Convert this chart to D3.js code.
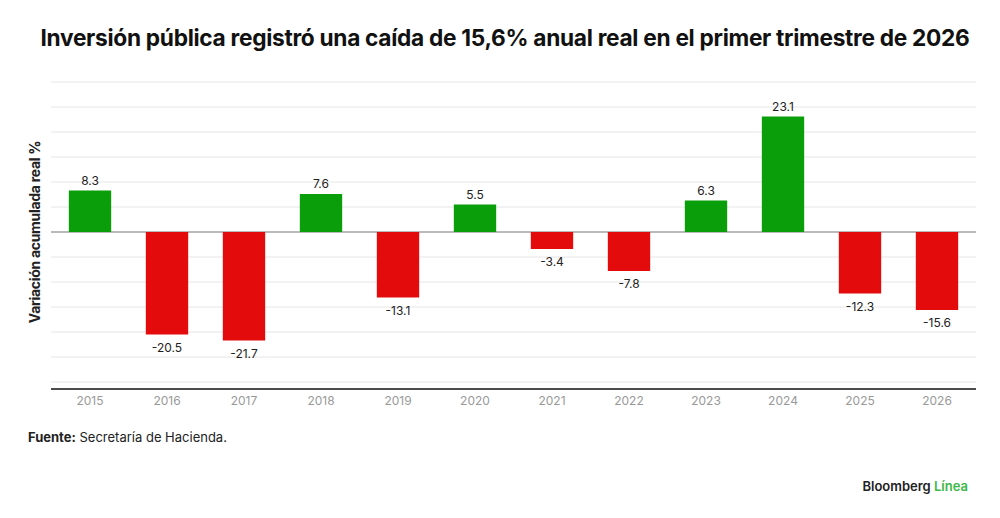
<!DOCTYPE html>
<html><head><meta charset="utf-8">
<script src="https://cdn.jsdelivr.net/npm/d3@7"></script>
<style>body{margin:0;background:#fff;font-family:Inter,"Noto Sans",sans-serif;}</style>
</head><body><svg id="c" width="1000" height="518"></svg>
<script>
const years = ["2015","2016","2017","2018","2019","2020","2021","2022","2023","2024","2025","2026"];
const values = [8.3,-20.5,-21.7,7.6,-13.1,5.5,-3.4,-7.8,6.3,23.1,-12.3,-15.6];
const gridTicks = [-30,-25,-20,-15,-10,-5,0,5,10,15,20,25,30];

const svg = d3.select("#c");
const x = d3.scaleBand().domain(years).range([51.5, 975.5]).paddingInner(0.45).paddingOuter(0.225);
const y = d3.scaleLinear().domain([-31.4, 35]).range([389, 57]);

svg.append("text").attr("x", 505).attr("y", 46).attr("text-anchor", "middle")
  .attr("font-size", 22.7).attr("font-weight", 700).attr("fill", "#111").attr("letter-spacing", -0.3)
  .text("Inversión pública registró una caída de 15,6% anual real en el primer trimestre de 2026");

svg.selectAll(".g").data(gridTicks).enter().append("line")
  .attr("x1", 51).attr("x2", 976).attr("y1", d => y(d)).attr("y2", d => y(d))
  .attr("stroke", d => d === 0 ? "#777" : "#e6e6e6").attr("stroke-width", 1);

svg.append("line").attr("x1", 51).attr("x2", 976).attr("y1", 389).attr("y2", 389)
  .attr("stroke", "#111").attr("stroke-width", 1.5);

svg.selectAll(".bar").data(values).enter().append("rect")
  .attr("x", (d, i) => x(years[i])).attr("width", x.bandwidth())
  .attr("y", d => y(Math.max(0, d))).attr("height", d => Math.abs(y(d) - y(0)))
  .attr("fill", d => d >= 0 ? "#0a9e0a" : "#e30b0b");

svg.selectAll(".lbl").data(values).enter().append("text")
  .attr("x", (d, i) => x(years[i]) + x.bandwidth() / 2)
  .attr("y", d => d >= 0 ? y(d) - 6 : y(d) + 17)
  .attr("text-anchor", "middle").attr("font-size", 12).attr("fill", "#222")
  .text(d => d.toFixed(1));

const xAxis = svg.append("g").attr("transform", "translate(0,389)")
  .call(d3.axisBottom(x).tickSize(0).tickPadding(7));
xAxis.select(".domain").remove();
xAxis.selectAll("text").attr("font-size", 12).attr("fill", "#999").attr("font-family", "Inter,sans-serif");

svg.append("text").attr("transform", "translate(40,232) rotate(-90)").attr("text-anchor", "middle")
  .attr("font-size", 14).attr("font-weight", 700).attr("fill", "#222").attr("letter-spacing", -0.3)
  .text("Variación acumulada real %");

svg.append("text").attr("x", 28).attr("y", 442).attr("font-size", 13).attr("fill", "#222")
  .html('<tspan font-weight="700">Fuente:</tspan> Secretaría de Hacienda.');

svg.append("text").attr("x", 968).attr("y", 491).attr("text-anchor", "end").attr("font-size", 13)
  .attr("font-weight", 600).attr("fill", "#222")
  .html('Bloomberg <tspan fill="#3cb84a">Línea</tspan>');
</script></body></html>
